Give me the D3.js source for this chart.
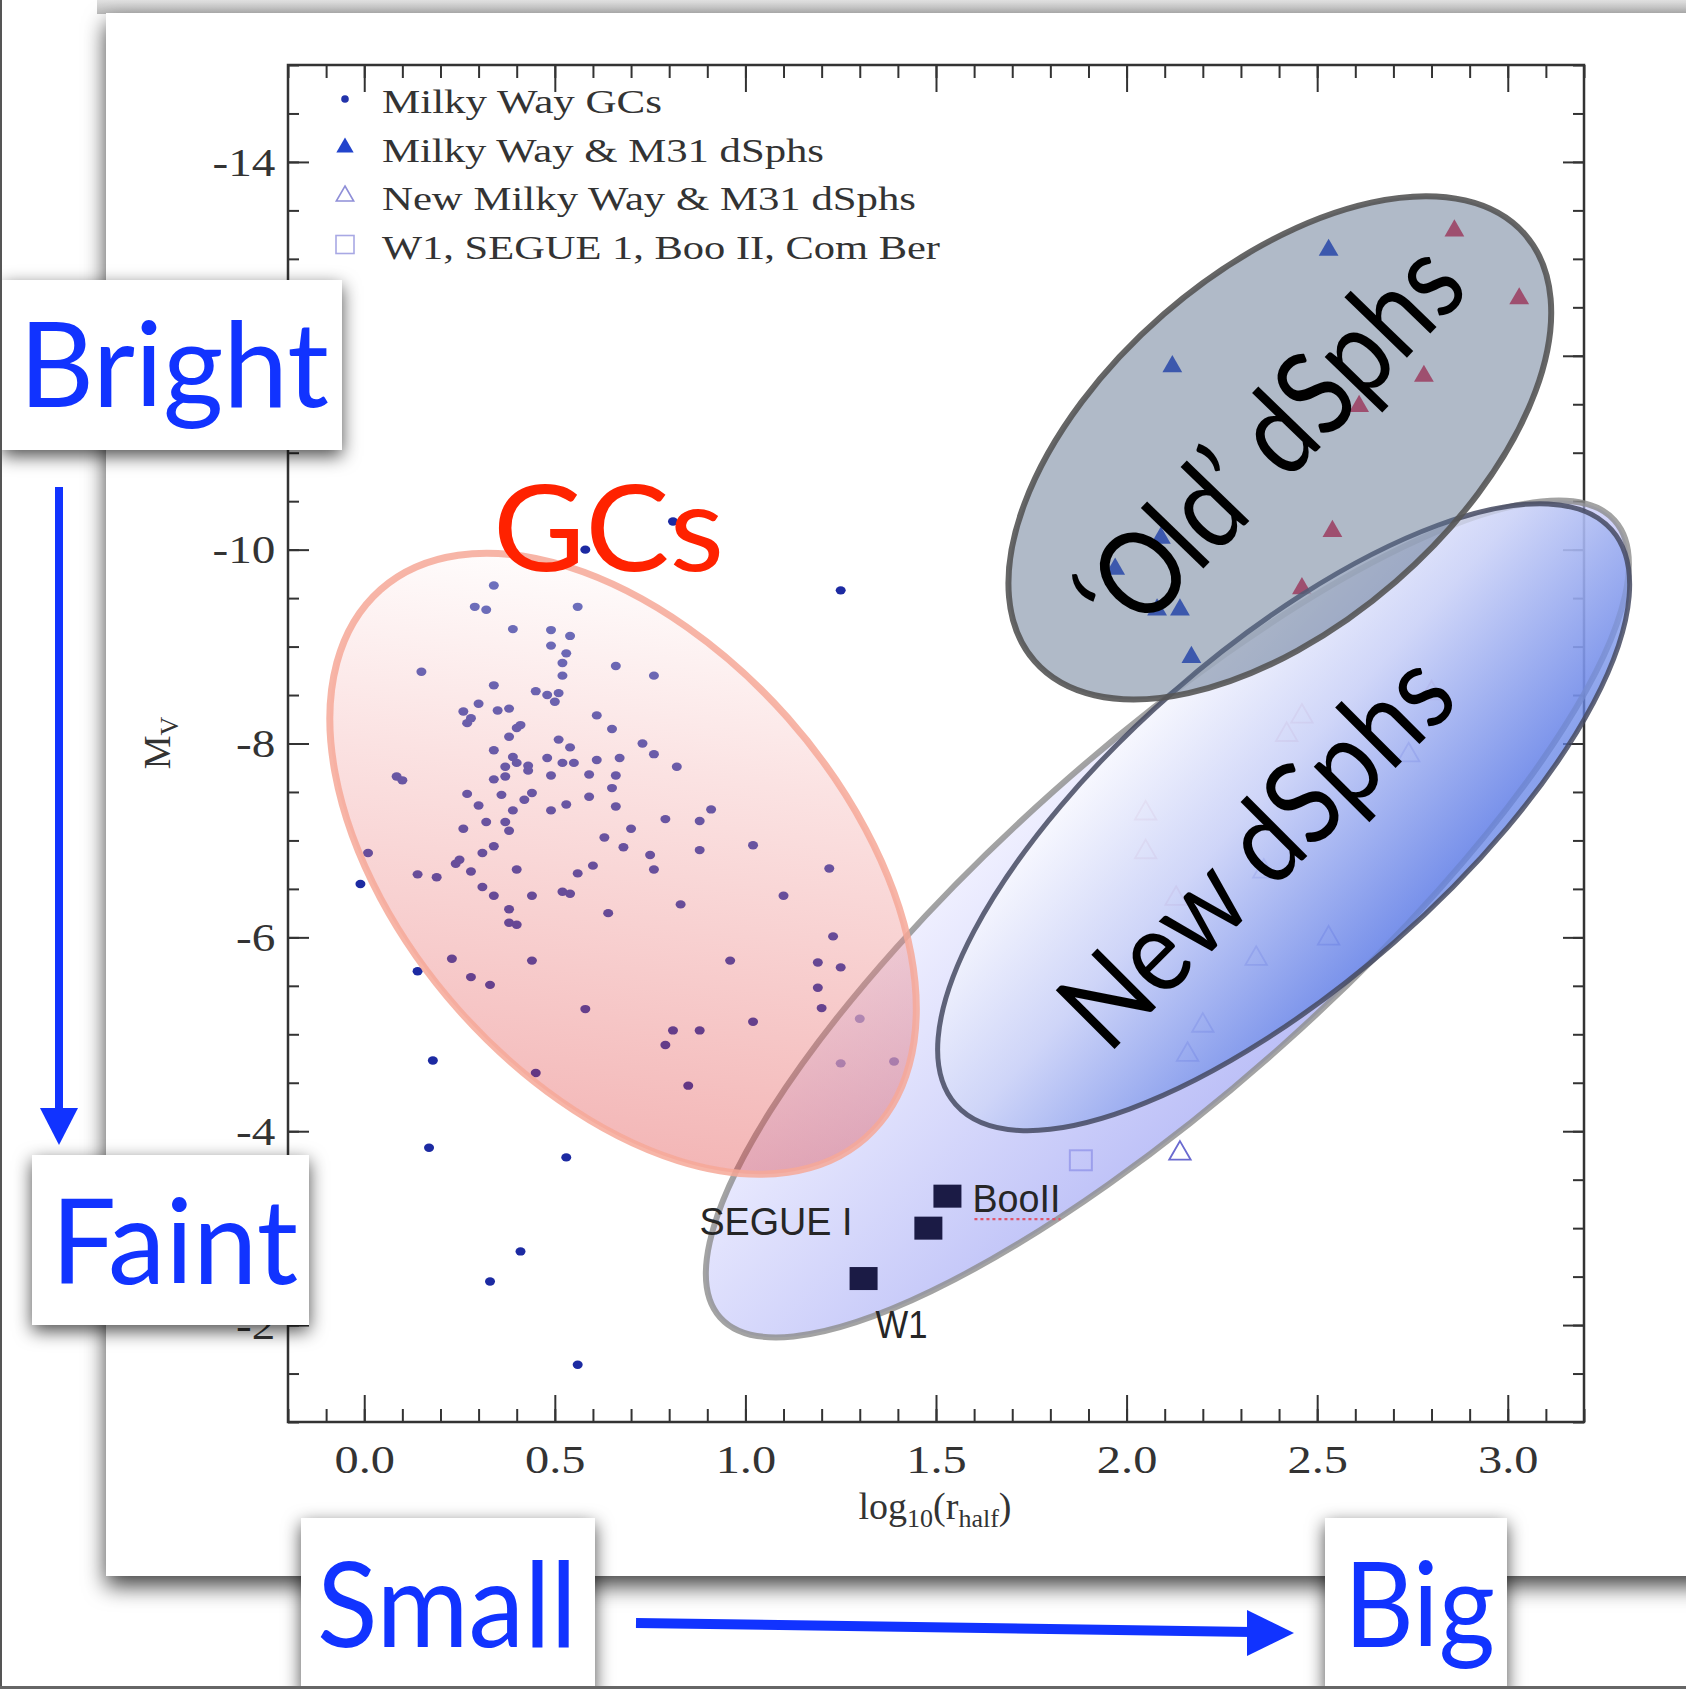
<!DOCTYPE html>
<html>
<head>
<meta charset="utf-8">
<script src="https://cdn.jsdelivr.net/npm/d3@7"></script>
<style>
  html, body { margin: 0; padding: 0; background: #fff; }
  svg { display: block; }
</style>
</head>
<body>
<div id="chart"></div>
<script>
// axis ticks
const xMajorTicks = [0.0, 0.5, 1.0, 1.5, 2.0, 2.5, 3.0];
const yMajorTicks = [-14, -12, -10, -8, -6, -4, -2];

// Milky Way GCs: [log10(r_half), M_V]
const gcPoints = [
  [0.58,-10.00],[0.81,-10.29],[1.25,-9.58],
  [0.34,-9.63],[0.29,-9.41],[0.32,-9.38],[0.56,-9.41],[0.39,-9.18],[0.49,-9.17],[0.54,-9.11],
  [0.49,-9.01],[0.53,-8.93],[0.52,-8.83],[0.66,-8.80],[0.15,-8.74],[0.52,-8.70],[0.76,-8.70],
  [0.34,-8.60],[0.45,-8.54],[0.48,-8.50],[0.51,-8.52],[0.50,-8.43],[0.30,-8.41],[0.26,-8.33],
  [0.28,-8.26],[0.27,-8.21],[0.35,-8.34],[0.38,-8.36],[0.61,-8.29],[0.41,-8.19],[0.40,-8.16],
  [0.65,-8.15],[0.38,-8.07],[0.51,-8.04],[0.54,-7.96],[0.73,-8.00],[0.34,-7.93],[0.39,-7.86],
  [0.40,-7.80],[0.48,-7.85],[0.52,-7.80],[0.55,-7.80],[0.61,-7.83],[0.67,-7.85],[0.37,-7.76],
  [0.43,-7.77],[0.43,-7.72],[0.37,-7.66],[0.34,-7.63],[0.49,-7.67],[0.59,-7.68],[0.66,-7.67],
  [0.085,-7.66],[0.10,-7.62],[0.76,-7.89],[0.82,-7.76],[0.65,-7.54],[0.27,-7.48],[0.36,-7.47],
  [0.44,-7.49],[0.42,-7.42],[0.59,-7.45],[0.30,-7.36],[0.39,-7.31],[0.49,-7.31],[0.53,-7.37],
  [0.66,-7.35],[0.91,-7.32],[0.32,-7.19],[0.37,-7.19],[0.38,-7.10],[0.26,-7.12],[0.70,-7.12],
  [0.79,-7.22],[0.88,-7.20],[0.63,-7.03],[0.68,-6.93],[0.34,-6.94],[0.31,-6.87],[0.88,-6.90],
  [1.02,-6.95],[0.25,-6.80],[0.24,-6.76],[0.28,-6.68],[0.40,-6.70],[0.60,-6.74],[0.56,-6.66],
  [0.75,-6.85],[0.76,-6.70],[1.22,-6.71],[0.01,-6.87],[-0.01,-6.55],[0.14,-6.65],[0.19,-6.62],
  [0.31,-6.52],[0.34,-6.43],[0.44,-6.43],[0.52,-6.47],[0.54,-6.45],[1.10,-6.43],[0.83,-6.34],
  [0.64,-6.25],[0.38,-6.29],[0.38,-6.15],[0.40,-6.13],
  [1.23,-6.01],[0.23,-5.78],[0.14,-5.65],[0.28,-5.59],[0.33,-5.51],[0.44,-5.76],[0.96,-5.76],
  [1.19,-5.74],[1.25,-5.69],[1.19,-5.48],[0.58,-5.26],[1.20,-5.27],[1.02,-5.13],[1.30,-5.16],
  [0.81,-5.04],[0.88,-5.04],[0.79,-4.89],[0.18,-4.73],[1.25,-4.70],[1.39,-4.72],[0.45,-4.60],
  [0.85,-4.47],[0.17,-3.83],[0.53,-3.73],[0.41,-2.76],[0.33,-2.45],[0.56,-1.59]
];

// Milky Way & M31 dSphs (filled)
const oldBlue = [[2.53,-13.09],[2.12,-11.89],[2.09,-10.12],[1.97,-9.80],[2.08,-9.38],[2.14,-9.38],[2.17,-8.89]];
const oldRed = [[2.86,-13.29],[3.03,-12.59],[2.78,-11.79],[2.61,-11.48],[2.54,-10.19],[2.46,-9.60]];

// New Milky Way & M31 dSphs (open)
const newBlue = [[2.36,-6.68],[2.74,-7.88],[2.53,-5.99],[2.34,-5.78],[2.20,-5.09],[2.16,-4.79],[2.14,-3.77]];
const newPink = [[2.46,-8.28],[2.42,-8.09],[2.05,-7.28],[2.05,-6.88],[2.13,-6.40],[2.80,-8.52]];

// W1, SEGUE 1, Boo II, Com Ber
const faintNames = ["W1", "SEGUE I", "BooII"];
const faintX = [1.31, 1.48, 1.53];
const faintY = [-2.48, -3.00, -3.33];
const comBer = [[1.88, -3.70]];

const legendLabels = ["Milky Way GCs", "Milky Way & M31 dSphs", "New Milky Way & M31 dSphs", "W1, SEGUE 1, Boo II, Com Ber"];

const W = 1686, H = 1689;
const blue = "#1133ff";

const x = d3.scaleLinear().domain([-0.2, 3.2]).range([288, 1584]);
const y = d3.scaleLinear().domain([-15, -1]).range([65, 1422]);

const svg = d3.select("#chart").append("svg")
    .attr("width", W).attr("height", H);

const defs = svg.append("defs");

function shadow(id, dy, sd, op) {
    const f = defs.append("filter").attr("id", id)
        .attr("x", "-20%").attr("y", "-20%").attr("width", "140%").attr("height", "140%");
    f.append("feDropShadow").attr("dx", 0).attr("dy", dy)
        .attr("stdDeviation", sd).attr("flood-color", "#000").attr("flood-opacity", op);
}
shadow("cardShadow", 10, 11, 0.75);
shadow("boxShadow", 6, 9, 0.7);

function grad(id, x1, y1, x2, y2, stops) {
    const g = defs.append("linearGradient").attr("id", id)
        .attr("x1", x1).attr("y1", y1).attr("x2", x2).attr("y2", y2);
    stops.forEach(function(s) {
        g.append("stop").attr("offset", s[0]).attr("stop-color", s[1]);
    });
}
grad("topBand", 0, 0, 0, 1, [[0, "#e2e2e2"], [1, "#bcbcbc"]]);
grad("gcFill", 0.05, 0.2, 0.95, 0.8, [[0, "#ffffff"], [0.35, "#f4b0b0"], [1, "#dd2e2e"]]);
grad("outerFill", 0.3, 0, 0.5, 1, [[0, "#e6e6ff"], [1, "#9096f2"]]);
grad("newFill", 0.15, 0.05, 0.45, 1, [[0, "#ffffff"], [0.45, "#ccd4f7"], [1, "#6282e6"]]);

// page background + slide card
svg.append("rect").attr("width", W).attr("height", H).attr("fill", "#fff");
svg.append("rect").attr("x", 97).attr("y", 0).attr("width", W - 97).attr("height", 14)
    .attr("fill", "url(#topBand)");
svg.append("rect").attr("x", 106).attr("y", 13).attr("width", 1620).attr("height", 1563)
    .attr("fill", "#fff").attr("filter", "url(#cardShadow)");

const plot = svg.append("g");

// ---------- axes ----------
function styleAxis(g) {
    g.select(".domain").remove();
    g.selectAll("line").attr("stroke", "#333").attr("stroke-width", 2);
    g.selectAll("text").attr("fill", "#333")
        .style("font-family", "'Liberation Serif', 'Times New Roman', serif")
        .style("font-size", "41px");
}

const xMinor = d3.range(-2, 33).map(function(i) { return i / 10; });
const yMinor = d3.range(-30, -1).map(function(i) { return i / 2; });

plot.append("g").attr("transform", "translate(0,1422)")
    .call(d3.axisBottom(x).tickValues(xMinor).tickSize(-13).tickFormat(""))
    .call(styleAxis);
plot.append("g").attr("transform", "translate(0,1422)")
    .call(d3.axisBottom(x).tickValues(xMajorTicks).tickSize(-27).tickPadding(22).tickFormat(d3.format(".1f")))
    .call(styleAxis)
    .selectAll("text").attr("transform", "scale(1.18,1)");
plot.append("g").attr("transform", "translate(0,65)")
    .call(d3.axisTop(x).tickValues(xMinor).tickSize(-13).tickFormat(""))
    .call(styleAxis);
plot.append("g").attr("transform", "translate(0,65)")
    .call(d3.axisTop(x).tickValues(xMajorTicks).tickSize(-27).tickFormat(""))
    .call(styleAxis);

// -12 sits under the "Bright" card, so its label is left blank
plot.append("g").attr("transform", "translate(288,0)")
    .call(d3.axisLeft(y).tickValues(yMinor).tickSize(-11).tickFormat(""))
    .call(styleAxis);
plot.append("g").attr("transform", "translate(288,0)")
    .call(d3.axisLeft(y).tickValues(yMajorTicks).tickSize(-21).tickPadding(11)
        .tickFormat(function(d) { return d === -12 ? "" : String(d); }))
    .call(styleAxis)
    .selectAll("text").attr("transform", "scale(1.15,1)");
plot.append("g").attr("transform", "translate(1584,0)")
    .call(d3.axisRight(y).tickValues(yMinor).tickSize(-11).tickFormat(""))
    .call(styleAxis);
plot.append("g").attr("transform", "translate(1584,0)")
    .call(d3.axisRight(y).tickValues(yMajorTicks).tickSize(-21).tickFormat(""))
    .call(styleAxis);

plot.append("rect").attr("x", 288).attr("y", 65).attr("width", 1584 - 288).attr("height", 1422 - 65)
    .attr("fill", "none").attr("stroke", "#333").attr("stroke-width", 2.5);

// axis titles
const serif = "'Liberation Serif', 'Times New Roman', serif";
const ty = plot.append("text").attr("transform", "translate(170,743) rotate(-90)")
    .attr("text-anchor", "middle").attr("fill", "#333")
    .style("font-family", serif).style("font-size", "38px");
ty.append("tspan").text("M");
ty.append("tspan").attr("dy", 8).style("font-size", "26px").text("V");

const tx = plot.append("text").attr("x", 935).attr("y", 1519)
    .attr("text-anchor", "middle").attr("fill", "#333")
    .style("font-family", serif).style("font-size", "38px");
tx.append("tspan").text("log");
tx.append("tspan").attr("dy", 8).style("font-size", "26px").text("10");
tx.append("tspan").attr("dy", -8).text("(r");
tx.append("tspan").attr("dy", 8).style("font-size", "26px").text("half");
tx.append("tspan").attr("dy", -8).text(")");

// ---------- legend ----------
const tri = d3.symbol().type(d3.symbolTriangle);
const legend = plot.append("g");
const legendLen = [280, 442, 534, 558];
legendLabels.forEach(function(label, i) {
    const cy = 99 + i * 48.5;
    const sym = legend.append("g").attr("transform", "translate(345," + cy + ")");
    if (i === 0) sym.append("circle").attr("r", 3.8).attr("fill", "#2233aa");
    if (i === 1) sym.append("path").attr("d", tri.size(130)()).attr("fill", "#2244cc");
    if (i === 2) sym.append("path").attr("d", tri.size(130)()).attr("fill", "none")
        .attr("stroke", "#8f8fd8").attr("stroke-width", 1.6);
    if (i === 3) sym.append("rect").attr("x", -9).attr("y", -9).attr("width", 18).attr("height", 18)
        .attr("fill", "none").attr("stroke", "#a8a8e4").attr("stroke-width", 1.6);
    legend.append("text").attr("x", 382).attr("y", cy + 14)
        .attr("textLength", legendLen[i]).attr("lengthAdjust", "spacingAndGlyphs")
        .attr("fill", "#333").style("font-family", serif).style("font-size", "33px")
        .text(label);
});

// ---------- data marks ----------
const marks = plot.append("g");
marks.selectAll("ellipse.gc").data(gcPoints).enter().append("ellipse")
    .attr("class", "gc")
    .attr("cx", function(d) { return x(d[0]); })
    .attr("cy", function(d) { return y(d[1]); })
    .attr("rx", 5).attr("ry", 4.2)
    .attr("fill", "#1c2aa2");

function triangles(data, fill, stroke, size) {
    marks.selectAll(null).data(data).enter().append("path")
        .attr("transform", function(d) { return "translate(" + x(d[0]) + "," + y(d[1]) + ")"; })
        .attr("d", tri.size(size)())
        .attr("fill", fill)
        .attr("stroke", stroke)
        .attr("stroke-width", stroke === "none" ? 0 : 1.8);
}
triangles(oldBlue, "#2244cc", "none", 170);
triangles(oldRed, "#dd3355", "none", 170);
triangles(newBlue, "none", "#6a6ad0", 200);
triangles(newPink, "none", "#d89aae", 200);

marks.selectAll(null).data(comBer).enter().append("rect")
    .attr("x", function(d) { return x(d[0]) - 11; })
    .attr("y", function(d) { return y(d[1]) - 10; })
    .attr("width", 22).attr("height", 20)
    .attr("fill", "none").attr("stroke", "#9a9ae0").attr("stroke-width", 2);

// ---------- region overlays ----------
// centre in data units, semi-axes in px, rotation in degrees
const regions = [
    { name: "outer", cx: 2.107, cy: -6.19, a: 599, b: 171, rot: -41.7,
      fill: "url(#outerFill)", op: 0.6, stroke: "#8c8c8c", sw: 6, sop: 0.8 },
    { name: "new", cx: 2.412, cy: -7.24, a: 436, b: 167, rot: -41.2,
      fill: "url(#newFill)", op: 0.75, stroke: "#454a62", sw: 5, sop: 0.85 },
    { name: "old", cx: 2.402, cy: -11.05, a: 325, b: 177, rot: -41,
      fill: "#5a6f8c", op: 0.48, stroke: "#555", sw: 6, sop: 0.9 },
    { name: "gc", cx: 0.679, cy: -6.76, a: 366, b: 220, rot: 48.5,
      fill: "url(#gcFill)", op: 0.36, stroke: "#f6a898", sw: 7, sop: 0.85 }
];
const overlay = plot.append("g");
regions.forEach(function(r) {
    overlay.append("g")
        .attr("transform", "translate(" + x(r.cx) + "," + y(r.cy) + ") rotate(" + r.rot + ")")
        .append("ellipse")
        .attr("rx", r.a).attr("ry", r.b)
        .attr("fill", r.fill).attr("fill-opacity", r.op)
        .attr("stroke", r.stroke).attr("stroke-width", r.sw).attr("stroke-opacity", r.sop);
});

// filled squares with labels (pasted on top)
const sans = "'Liberation Sans', Arial, sans-serif";
const labelOff = {
    "W1": { dx: 12, dy: 59, anchor: "start", len: 52 },
    "SEGUE I": { dx: -76, dy: 7, anchor: "end", len: 153 },
    "BooII": { dx: 25, dy: 16, anchor: "start", len: 88 }
};
faintNames.forEach(function(n, i) {
    const px = x(faintX[i]), py = y(faintY[i]);
    plot.append("rect").attr("x", px - 14).attr("y", py - 11.5).attr("width", 28).attr("height", 23)
        .attr("fill", "#1b1b45");
    const o = labelOff[n];
    plot.append("text").attr("x", px + o.dx).attr("y", py + o.dy)
        .attr("text-anchor", o.anchor)
        .attr("textLength", o.len).attr("lengthAdjust", "spacingAndGlyphs")
        .attr("fill", "#262626").style("font-family", sans).style("font-size", "39px")
        .text(n);
    if (n === "BooII") {
        plot.append("line").attr("x1", px + o.dx + 2).attr("x2", px + o.dx + o.len)
            .attr("y1", py + o.dy + 7).attr("y2", py + o.dy + 7)
            .attr("stroke", "#e0556a").attr("stroke-width", 2.2).attr("stroke-dasharray", "3,3");
    }
});

// region names
const headline = "Lato, 'Open Sans', 'DejaVu Sans', sans-serif";
plot.append("text").attr("x", 493).attr("y", 571)
    .attr("textLength", 231).attr("lengthAdjust", "spacingAndGlyphs")
    .attr("fill", "#ff2200").style("font-family", headline).style("font-size", "120px")
    .text("GCs");
plot.append("text")
    .attr("transform", "translate(1270,440) rotate(-46)")
    .attr("text-anchor", "middle").attr("dy", "0.35em")
    .attr("textLength", 495).attr("lengthAdjust", "spacingAndGlyphs")
    .attr("fill", "#000").style("font-family", headline).style("font-size", "118px")
    .text("\u2018Old\u2019 dSphs");
plot.append("text")
    .attr("transform", "translate(1256,850) rotate(-45)")
    .attr("text-anchor", "middle").attr("dy", "0.35em")
    .attr("textLength", 500).attr("lengthAdjust", "spacingAndGlyphs")
    .attr("fill", "#000").style("font-family", headline).style("font-size", "116px")
    .text("New dSphs");

// ---------- slide annotations ----------
const ann = svg.append("g");
function box(bx, by, bw, bh) {
    ann.append("rect").attr("x", bx).attr("y", by).attr("width", bw).attr("height", bh)
        .attr("fill", "#fff").attr("filter", "url(#boxShadow)");
}
function word(t, tx0, tyb, len) {
    ann.append("text").attr("x", tx0).attr("y", tyb)
        .attr("textLength", len).attr("lengthAdjust", "spacingAndGlyphs")
        .attr("fill", blue).style("font-family", headline).style("font-size", "118px")
        .text(t);
}
box(2, 280, 340, 170);   word("Bright", 19, 407, 310);
box(32, 1155, 277, 170); word("Faint", 51, 1284, 247);
box(301, 1518, 294, 175); word("Small", 317, 1647, 260);
box(1325, 1518, 182, 175); word("Big", 1344, 1647, 151);

// arrows
ann.append("line").attr("x1", 59).attr("y1", 487).attr("x2", 59).attr("y2", 1112)
    .attr("stroke", blue).attr("stroke-width", 8);
ann.append("path").attr("d", "M40,1108 L78,1108 L59,1145 Z").attr("fill", blue);
ann.append("line").attr("x1", 636).attr("y1", 1623).attr("x2", 1252).attr("y2", 1632)
    .attr("stroke", blue).attr("stroke-width", 10);
ann.append("path").attr("d", "M1247,1610 L1294,1633 L1247,1656 Z").attr("fill", blue);

// slide frame lines
svg.append("line").attr("x1", 1).attr("y1", 0).attr("x2", 1).attr("y2", H)
    .attr("stroke", "#555").attr("stroke-width", 2);
svg.append("line").attr("x1", 0).attr("y1", H - 1.5).attr("x2", W).attr("y2", H - 1.5)
    .attr("stroke", "#666").attr("stroke-width", 3);
</script>
</body>
</html>
